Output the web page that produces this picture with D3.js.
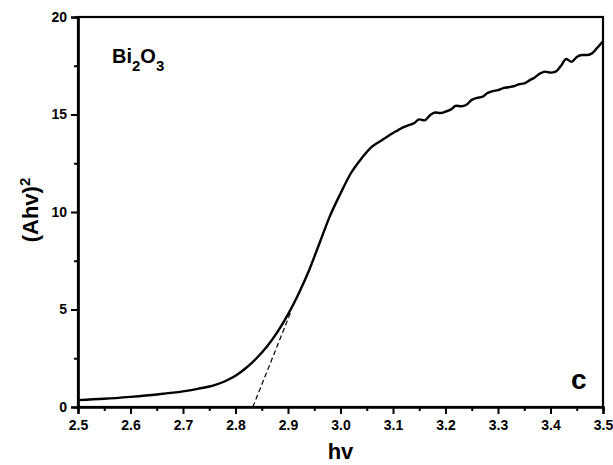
<!DOCTYPE html>
<html><head><meta charset="utf-8">
<script src="https://cdn.jsdelivr.net/npm/d3@7"></script>
<style>body{margin:0;background:#fff}svg{display:block}text{font-family:"Liberation Sans",Arial,sans-serif;font-weight:bold}</style>
</head><body>
<script>
const hv = [2.50,2.55,2.60,2.65,2.70,2.73,2.76,2.78,2.80,2.82,2.84,2.86,2.88,2.90,2.92,2.94,2.96,2.98,3.00,3.02,3.04,3.06,3.08,3.10,3.11,3.12,3.13,3.14,3.15,3.16,3.17,3.18,3.19,3.20,3.21,3.22,3.23,3.24,3.25,3.26,3.27,3.28,3.29,3.30,3.31,3.32,3.33,3.34,3.35,3.36,3.37,3.38,3.39,3.40,3.41,3.42,3.43,3.44,3.45,3.46,3.47,3.48,3.49,3.50];
const ahv2 = [0.35,0.42,0.52,0.64,0.80,0.94,1.12,1.32,1.60,2.00,2.50,3.10,3.85,4.75,5.80,7.00,8.40,9.80,10.95,12.00,12.75,13.35,13.70,14.05,14.20,14.35,14.45,14.55,14.75,14.70,14.95,15.10,15.08,15.15,15.25,15.45,15.42,15.50,15.75,15.85,15.90,16.10,16.20,16.25,16.35,16.40,16.45,16.55,16.60,16.75,16.90,17.10,17.20,17.15,17.20,17.50,17.85,17.70,17.95,18.05,18.05,18.15,18.45,18.75];
const tangentX = [2.833, 2.905];
const tangentY = [0, 4.85];
const xTicks = [2.5,2.6,2.7,2.8,2.9,3.0,3.1,3.2,3.3,3.4,3.5];
const xMinor = [2.55,2.65,2.75,2.85,2.95,3.05,3.15,3.25,3.35,3.45];
const yTicks = [0,5,10,15,20];
const yMinor = [2.5,7.5,12.5,17.5];

const W = 613, H = 465;
const m = {l:78, r:10, t:17, b:58};
const svg = d3.select("body").append("svg").attr("width",W).attr("height",H);
const x = d3.scaleLinear().domain([2.5,3.5]).range([m.l, W-m.r]);
const y = d3.scaleLinear().domain([0,20]).range([H-m.b, m.t]);

// frame
svg.append("rect").attr("x",x(2.5)).attr("y",y(20)).attr("width",x(3.5)-x(2.5)).attr("height",y(0)-y(20))
  .attr("fill","none").attr("stroke","#000").attr("stroke-width",2.2);

function styleAxis(g){
  g.select(".domain").attr("stroke-width",2.2);
  g.selectAll(".tick line").attr("stroke-width",2);
  g.selectAll(".tick text").style("font-size","14px").style("font-weight","bold").attr("fill","#000");
}
const gx = svg.append("g").attr("transform",`translate(0,${y(0)})`)
  .call(d3.axisBottom(x).tickValues(xTicks).tickFormat(d3.format(".1f")).tickSizeOuter(0).tickSize(7).tickPadding(6));
styleAxis(gx);
const gxm = svg.append("g").attr("transform",`translate(0,${y(0)})`)
  .call(d3.axisBottom(x).tickValues(xMinor).tickFormat("").tickSizeOuter(0).tickSize(4));
styleAxis(gxm);
const gy = svg.append("g").attr("transform",`translate(${x(2.5)},0)`)
  .call(d3.axisLeft(y).tickValues(yTicks).tickFormat(d3.format("d")).tickSizeOuter(0).tickSize(7).tickPadding(4));
styleAxis(gy);
const gym = svg.append("g").attr("transform",`translate(${x(2.5)},0)`)
  .call(d3.axisLeft(y).tickValues(yMinor).tickFormat("").tickSizeOuter(0).tickSize(4));
styleAxis(gym);

// curve
const data = hv.map((v,i)=>[v, ahv2[i]]);
svg.append("path").datum(data)
  .attr("d", d3.line().x(d=>x(d[0])).y(d=>y(d[1])).curve(d3.curveMonotoneX))
  .attr("fill","none").attr("stroke","#000").attr("stroke-width",2.4).attr("stroke-linejoin","round");

// tangent
svg.append("line").attr("x1",x(tangentX[0])).attr("y1",y(tangentY[0])).attr("x2",x(tangentX[1])).attr("y2",y(tangentY[1]))
  .attr("stroke","#000").attr("stroke-width",1.2).attr("stroke-dasharray","5,3");

// labels
svg.append("text").attr("x",(x(2.5)+x(3.5))/2).attr("y",459).attr("text-anchor","middle").style("font-size","22px").text("hv");
const yl = svg.append("text").attr("transform",`translate(38,210) rotate(-90)`).attr("text-anchor","middle").style("font-size","22px");
yl.append("tspan").text("(Ahv)");
yl.append("tspan").attr("dy",-8).style("font-size","15px").text("2");

const bl = svg.append("text").attr("x",112).attr("y",63).style("font-size","20px");
bl.append("tspan").text("Bi");
bl.append("tspan").attr("dy",8).style("font-size","15px").text("2");
bl.append("tspan").attr("dy",-8).text("O");
bl.append("tspan").attr("dy",8).style("font-size","15px").text("3");

svg.append("text").attr("x",571).attr("y",389).style("font-size","28px").text("c");
</script>
</body></html>
